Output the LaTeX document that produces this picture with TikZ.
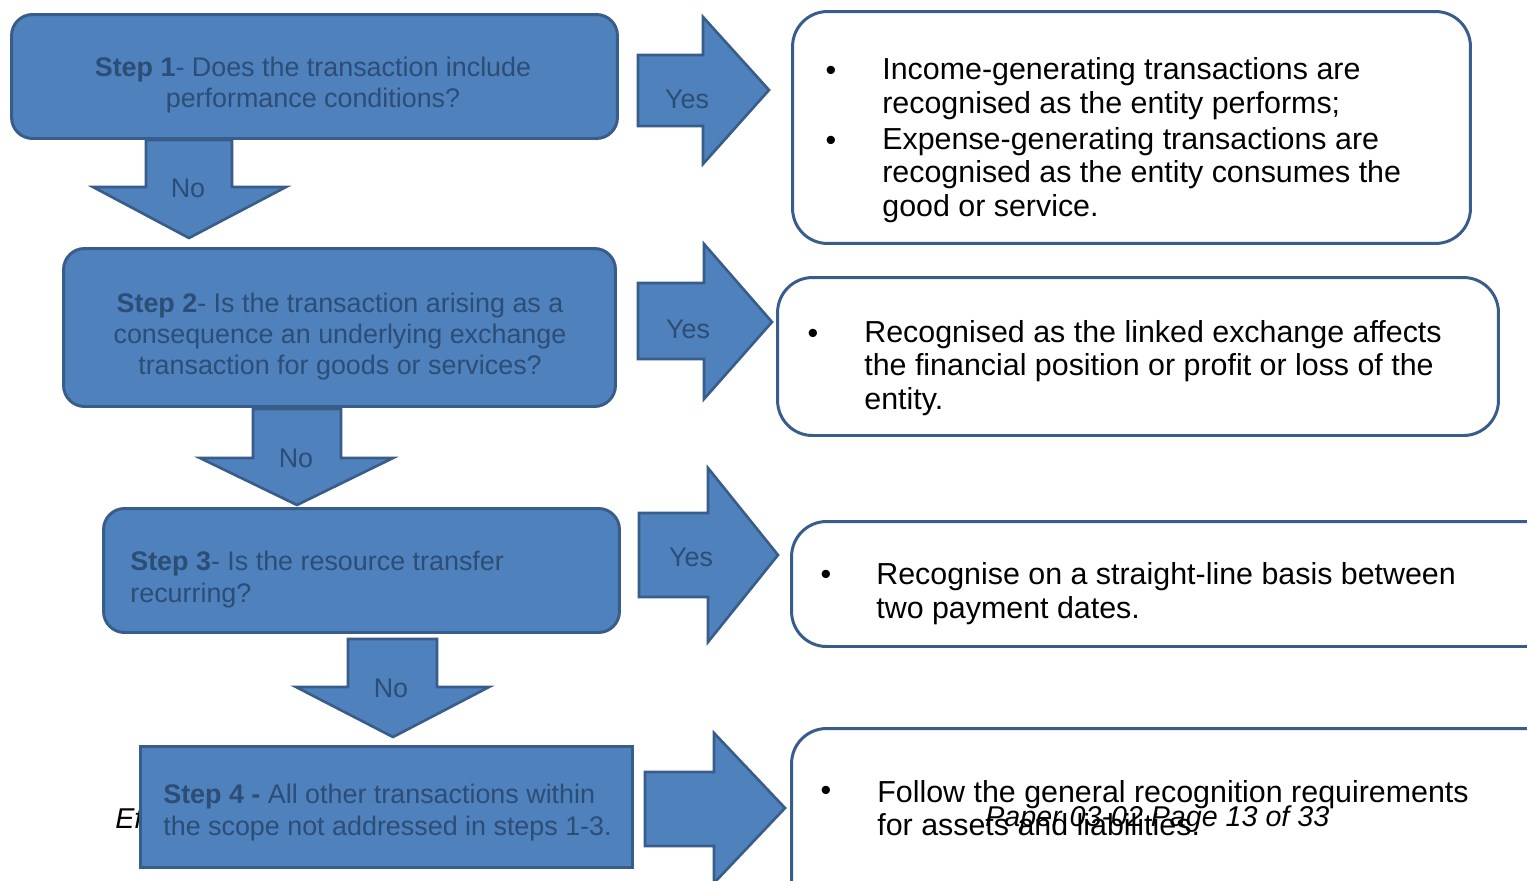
\documentclass[tikz,border=0pt]{standalone}
\usepackage{fontspec}
\setmainfont{Liberation Sans}
\definecolor{fillb}{HTML}{4F81BD}
\definecolor{edgeb}{HTML}{385D8A}
\definecolor{txtb}{HTML}{2C4D75}
\begin{document}
\begin{tikzpicture}[x=0.02cm,y=-0.02cm,
  stepbox/.style={draw=edgeb, fill=fillb, line width=1.7pt, inner sep=0pt, outer sep=0pt, rounded corners=0.42cm},
  squarebox/.style={draw=edgeb, fill=fillb, line width=1.7pt, inner sep=0pt, outer sep=0pt},
  resbox/.style={draw=edgeb, fill=white, line width=1.7pt, inner sep=0pt, outer sep=0pt, rounded corners=0.7cm},
  blockarrow/.style={draw=edgeb, fill=fillb, line width=1.5pt, line join=miter},
  steptext/.style={text=txtb, font=\fontsize{15.3}{17.8}\selectfont, inner sep=0pt},
  arrowlabel/.style={text=txtb, font=\fontsize{15.3}{17.8}\selectfont, inner sep=0pt},
  restext/.style={text=black, font=\fontsize{17.3}{19.2}\selectfont, inner sep=0pt, align=left, anchor=west},
  bullet/.style={text=black, font=\fontsize{17.3}{19.2}\selectfont, inner sep=0pt},
  footer/.style={text=black, font=\fontsize{16.3}{19.3}\selectfont\itshape, inner sep=0pt, anchor=west}
]
\clip (0,0) rectangle (1527,880);
\fill[white] (0,0) rectangle (1527,880);

% hidden footer fragment behind step 4
\node[footer] (ef) at (115,818) {Ef};

% step boxes
\node[stepbox, minimum width=12.12cm, minimum height=2.48cm] (s1) at (314.5,76.5) {};
\node[stepbox, minimum width=11.04cm, minimum height=3.16cm] (s2) at (339.5,327.5) {};
\node[stepbox, minimum width=10.32cm, minimum height=2.48cm] (s3) at (361.5,570.5) {};
\node[squarebox, minimum width=9.84cm, minimum height=2.42cm] (s4) at (386.5,807) {};

\node[steptext, align=center] (t1) at (313,85) {\textbf{Step 1}- Does the transaction include\\performance conditions?};
\node[steptext, align=center] (t2) at (340,336.5) {\textbf{Step 2}- Is the transaction arising as a\\consequence an underlying exchange\\transaction for goods or services?};
\node[steptext, align=left, anchor=west] (t3) at (130,579.5) {\textbf{Step 3}- Is the resource transfer\\recurring?};
\node[steptext, align=left, anchor=west] (t4) at (163,812.5) {\textbf{Step 4 -} All other transactions within\\the scope not addressed in steps 1-3.};

% down arrows (No)
\draw[blockarrow] (146,140) -- (232,140) -- (232,187) -- (286,187) -- (189,238) -- (93,187) -- (146,187) -- cycle;
\node[arrowlabel] (n1) at (188,188) {No};
\draw[blockarrow] (253,409) -- (341,409) -- (341,458) -- (393,458) -- (297,505) -- (200,458) -- (253,458) -- cycle;
\node[arrowlabel] (n2) at (296,458) {No};
\draw[blockarrow] (348,639) -- (437,639) -- (437,687) -- (489,687) -- (393,737) -- (296,687) -- (348,687) -- cycle;
\node[arrowlabel] (n3) at (391,688) {No};

% right arrows (Yes)
\draw[blockarrow] (638,55) -- (703,55) -- (703,17) -- (769,90) -- (703,164) -- (703,126) -- (638,126) -- cycle;
\node[arrowlabel] (y1) at (687,99) {Yes};
\draw[blockarrow] (638,283) -- (704,283) -- (704,244) -- (772,322) -- (704,399) -- (704,359) -- (638,359) -- cycle;
\node[arrowlabel] (y2) at (688,329) {Yes};
\draw[blockarrow] (639,513) -- (708,513) -- (708,468) -- (778,555) -- (708,642) -- (708,597) -- (639,597) -- cycle;
\node[arrowlabel] (y3) at (691,557) {Yes};
\draw[blockarrow] (645,772) -- (714,772) -- (714,733) -- (785,808) -- (714,883) -- (714,846) -- (645,846) -- cycle;

% result boxes
\node[resbox, minimum width=13.56cm, minimum height=4.64cm] (r1) at (1131.5,127.5) {};
\node[resbox, minimum width=14.42cm, minimum height=3.16cm] (r2) at (1138,356.5) {};
\node[resbox, minimum width=15.37cm, minimum height=2.5cm] (r3) at (1175.75,584) {};
\node[resbox, minimum width=15.37cm, minimum height=3.83cm] (r4) at (1175.75,824.25) {};

\node[bullet] (b1a) at (831,73) {\textbullet};
\node[restext] (p1a) at (882,89) {Income-generating transactions are\\recognised as the entity performs;};
\node[bullet] (b1b) at (831,143) {\textbullet};
\node[restext] (p1b) at (882,175) {Expense-generating transactions are\\recognised as the entity consumes the\\good or service.};

\node[bullet] (b2) at (813,336) {\textbullet};
\node[restext] (p2) at (864,368) {Recognised as the linked exchange affects\\the financial position or profit or loss of the\\entity.};

\node[bullet] (b3) at (826,577.5) {\textbullet};
\node[restext] (p3) at (876,593.5) {Recognise on a straight-line basis between\\two payment dates.};

\node[bullet] (b4) at (826,793) {\textbullet};
\node[restext] (p4) at (877,808) {Follow the general recognition requirements\\for assets and liabilities.};

% page footer overprinted
\node[footer] (pg) at (985,819) {Paper 03-02 Page 13 of 33};
\end{tikzpicture}
\end{document}
